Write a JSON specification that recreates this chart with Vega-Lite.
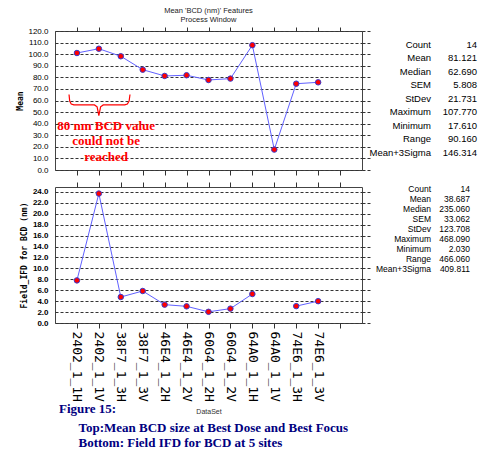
{
  "$schema": "https://vega.github.io/schema/vega-lite/v6.json",
  "background": "white",
  "padding": {"left": 16, "top": 6, "right": 5, "bottom": 4},
  "config": {
    "font": "Liberation Sans",
    "view": {"stroke": null},
    "axis": {
      "gridColor": "#333",
      "gridDash": [3, 2],
      "gridOpacity": 1,
      "tickColor": "#333",
      "domain": false,
      "labelColor": "#000",
      "titleColor": "#000"
    }
  },
  "datasets": {
    "top": [
      {"dataset": "2402_1_1H", "mean": 101.0},
      {"dataset": "2402_1_1V", "mean": 104.7},
      {"dataset": "38F7_1_3H", "mean": 98.2},
      {"dataset": "38F7_1_3V", "mean": 86.6},
      {"dataset": "46E4_1_2H", "mean": 81.2},
      {"dataset": "46E4_1_2V", "mean": 81.8},
      {"dataset": "60G4_1_2H", "mean": 77.7},
      {"dataset": "60G4_1_2V", "mean": 78.9},
      {"dataset": "64A0_1_1H", "mean": 107.77},
      {"dataset": "64A0_1_1V", "mean": 17.61},
      {"dataset": "74E6_1_3H", "mean": 74.5},
      {"dataset": "74E6_1_3V", "mean": 75.7}
    ],
    "bottom": [
      {"dataset": "2402_1_1H", "ifd": 7.8},
      {"dataset": "2402_1_1V", "ifd": 23.7},
      {"dataset": "38F7_1_3H", "ifd": 4.76},
      {"dataset": "38F7_1_3V", "ifd": 5.86},
      {"dataset": "46E4_1_2H", "ifd": 3.36},
      {"dataset": "46E4_1_2V", "ifd": 3.05},
      {"dataset": "60G4_1_2H", "ifd": 2.05},
      {"dataset": "60G4_1_2V", "ifd": 2.63},
      {"dataset": "64A0_1_1H", "ifd": 5.31},
      {"dataset": "64A0_1_1V", "ifd": null},
      {"dataset": "74E6_1_3H", "ifd": 3.09},
      {"dataset": "74E6_1_3V", "ifd": 4.0}
    ],
    "brace": [
      {"bx": 0.64, "by": 65.2},
      {"bx": 0.67, "by": 59.5},
      {"bx": 0.74, "by": 57.0},
      {"bx": 0.86, "by": 56.2},
      {"bx": 1.8, "by": 56.2},
      {"bx": 1.92, "by": 54.5},
      {"bx": 2.0, "by": 47.0},
      {"bx": 2.08, "by": 54.5},
      {"bx": 2.2, "by": 56.2},
      {"bx": 3.18, "by": 56.2},
      {"bx": 3.3, "by": 57.0},
      {"bx": 3.38, "by": 59.5},
      {"bx": 3.42, "by": 65.2}
    ],
    "note": [
      {"tx": 2.33, "ty": 38.3, "t": "80 nm BCD value"},
      {"tx": 2.33, "ty": 25.4, "t": "could not be"},
      {"tx": 2.33, "ty": 11.6, "t": "reached"}
    ],
    "topStats": [
      {"name": "Count", "num": "14"},
      {"name": "Mean", "num": "81.121"},
      {"name": "Median", "num": "62.690"},
      {"name": "SEM", "num": "5.808"},
      {"name": "StDev", "num": "21.731"},
      {"name": "Maximum", "num": "107.770"},
      {"name": "Minimum", "num": "17.610"},
      {"name": "Range", "num": "90.160"},
      {"name": "Mean+3Sigma", "num": "146.314"}
    ],
    "bottomStats": [
      {"name": "Count", "num": "14"},
      {"name": "Mean", "num": "38.687"},
      {"name": "Median", "num": "235.060"},
      {"name": "SEM", "num": "33.062"},
      {"name": "StDev", "num": "123.708"},
      {"name": "Maximum", "num": "468.090"},
      {"name": "Minimum", "num": "2.030"},
      {"name": "Range", "num": "466.060"},
      {"name": "Mean+3Sigma", "num": "409.811"}
    ]
  },
  "title": {
    "text": "Figure 15:",
    "subtitle": [
      "\u200b\u00a0\u00a0\u00a0\u00a0\u00a0\u00a0Top:Mean BCD size at Best Dose and Best Focus",
      "\u200b\u00a0\u00a0\u00a0\u00a0\u00a0\u00a0Bottom: Field IFD for BCD at 5 sites"
    ],
    "orient": "bottom",
    "anchor": "start",
    "frame": "group",
    "offset": -12,
    "dx": 4,
    "font": "Liberation Serif",
    "fontSize": 13,
    "fontWeight": "bold",
    "color": "#000080",
    "subtitleFont": "Liberation Serif",
    "subtitleFontSize": 13,
    "subtitleFontWeight": "bold",
    "subtitleColor": "#000080",
    "subtitleLineHeight": 15,
    "subtitlePadding": 6
  },
  "columns": 2,
  "bounds": "flush",
  "spacing": {"row": 17, "column": 69},
  "concat": [
    {
      "width": 307,
      "height": 139,
      "title": {
        "text": ["Mean 'BCD (nm)' Features", "Process Window"],
        "fontSize": 7.5,
        "fontWeight": "normal",
        "color": "#222",
        "lineHeight": 9,
        "offset": 3,
        "anchor": "middle"
      },
      "view": {"stroke": "#444"},
      "resolve": {"scale": {"x": "independent"}, "axis": {"x": "independent", "y": "independent"}},
      "layer": [
        {
          "data": {"name": "top"},
          "mark": {"type": "line", "color": "#6060ff", "strokeWidth": 1},
          "encoding": {
            "x": {
              "field": "dataset", "type": "ordinal",
              "scale": {"type": "point", "padding": 1, "domain": ["2402_1_1H", "2402_1_1V", "38F7_1_3H", "38F7_1_3V", "46E4_1_2H", "46E4_1_2V", "60G4_1_2H", "60G4_1_2V", "64A0_1_1H", "64A0_1_1V", "74E6_1_3H", "74E6_1_3V", " "]},
              "axis": {"orient": "bottom", "labels": false, "tickSize": 5, "grid": false, "title": null}
            },
            "y": {
              "field": "mean", "type": "quantitative",
              "scale": {"domain": [0, 120], "nice": false},
              "axis": {
                "title": "Mean", "values": [0, 10, 20, 30, 40, 50, 60, 70, 80, 90, 100, 110, 120],
                "format": ".1f", "grid": true, "ticks": false, "labelFontSize": 8, "labelPadding": 7,
                "titleFont": "DejaVu Sans Mono", "titleFontSize": 8, "titleFontWeight": "bold", "titlePadding": 3
              }
            }
          }
        },
        {
          "data": {"name": "top"},
          "mark": {"type": "point", "filled": true, "fill": "#ff0000", "stroke": "#3a3acc", "strokeWidth": 1, "size": 30, "opacity": 1},
          "encoding": {
            "x": {
              "field": "dataset", "type": "ordinal",
              "scale": {"type": "point", "padding": 1, "domain": ["2402_1_1H", "2402_1_1V", "38F7_1_3H", "38F7_1_3V", "46E4_1_2H", "46E4_1_2V", "60G4_1_2H", "60G4_1_2V", "64A0_1_1H", "64A0_1_1V", "74E6_1_3H", "74E6_1_3V", " "]},
              "axis": {"orient": "top", "labels": false, "tickSize": 4, "grid": false, "title": null}
            },
            "y": {
              "field": "mean", "type": "quantitative",
              "scale": {"domain": [0, 120], "nice": false},
              "axis": {"orient": "right", "labels": false, "tickSize": 8, "tickDash": [3, 2], "grid": false, "title": null, "values": [0, 10, 20, 30, 40, 50, 60, 70, 80, 90, 100, 110, 120]}
            }
          }
        },
        {
          "data": {"name": "brace"},
          "mark": {"type": "line", "color": "#ff0000", "strokeWidth": 1.2},
          "encoding": {
            "x": {"field": "bx", "type": "quantitative", "scale": {"domain": [0, 14], "nice": false, "zero": false}, "axis": null},
            "y": {"field": "by", "type": "quantitative", "scale": {"domain": [0, 120], "nice": false}, "axis": null}
          }
        },
        {
          "data": {"name": "note"},
          "mark": {"type": "text", "color": "#ff0000", "font": "Liberation Serif", "fontWeight": "bold", "fontSize": 13},
          "encoding": {
            "x": {"field": "tx", "type": "quantitative", "scale": {"domain": [0, 14], "nice": false, "zero": false}, "axis": null},
            "y": {"field": "ty", "type": "quantitative", "scale": {"domain": [0, 120], "nice": false}, "axis": null},
            "text": {"field": "t"}
          }
        }
      ]
    },
    {
      "width": 46,
      "height": 135,
      "data": {"name": "topStats"},
      "transform": [{"fold": ["name", "num"], "as": ["col", "txt"]}],
      "mark": {"type": "text", "align": "right", "fontSize": 9.5, "color": "#000"},
      "encoding": {
        "x": {"field": "col", "type": "nominal", "scale": {"type": "point", "domain": ["name", "num"], "padding": 0}, "axis": null},
        "y": {"field": "name", "type": "nominal", "sort": null, "scale": {"type": "point", "padding": 1.685}, "axis": null},
        "text": {"field": "txt"}
      }
    },
    {
      "width": 307,
      "height": 136,
      "view": {"stroke": "#444"},
      "data": {"name": "bottom"},
      "resolve": {"axis": {"x": "independent", "y": "independent"}},
      "layer": [
        {
          "mark": {"type": "line", "color": "#6060ff", "strokeWidth": 1},
          "encoding": {
            "x": {
              "field": "dataset", "type": "ordinal",
              "scale": {"type": "point", "padding": 1, "domain": ["2402_1_1H", "2402_1_1V", "38F7_1_3H", "38F7_1_3V", "46E4_1_2H", "46E4_1_2V", "60G4_1_2H", "60G4_1_2V", "64A0_1_1H", "64A0_1_1V", "74E6_1_3H", "74E6_1_3V", " "]},
              "axis": {
                "orient": "bottom", "labelAngle": 90, "labelFont": "DejaVu Sans Mono", "labelFontSize": 13,
                "labelPadding": 3, "tickSize": 5, "labelOverlap": false, "grid": false,
                "title": "DataSet", "titleFontSize": 7, "titleFontWeight": "normal", "titleColor": "#333", "titlePadding": 6
              }
            },
            "y": {
              "field": "ifd", "type": "quantitative",
              "scale": {"domain": [0, 24.9], "nice": false},
              "axis": {
                "title": "Field_IFD for BCD (nm)", "values": [0, 2, 4, 6, 8, 10, 12, 14, 16, 18, 20, 22, 24],
                "format": ".1f", "grid": true, "ticks": false, "labelFontSize": 8, "labelFontWeight": "bold", "labelPadding": 7,
                "titleFont": "DejaVu Sans Mono", "titleFontSize": 8, "titleFontWeight": "bold", "titlePadding": 4
              }
            }
          }
        },
        {
          "mark": {"type": "point", "filled": true, "fill": "#ff0000", "stroke": "#3a3acc", "strokeWidth": 1, "size": 30, "opacity": 1},
          "encoding": {
            "x": {
              "field": "dataset", "type": "ordinal",
              "scale": {"type": "point", "padding": 1, "domain": ["2402_1_1H", "2402_1_1V", "38F7_1_3H", "38F7_1_3V", "46E4_1_2H", "46E4_1_2V", "60G4_1_2H", "60G4_1_2V", "64A0_1_1H", "64A0_1_1V", "74E6_1_3H", "74E6_1_3V", " "]},
              "axis": {"orient": "top", "labels": false, "tickSize": 5, "grid": false, "title": null}
            },
            "y": {
              "field": "ifd", "type": "quantitative",
              "scale": {"domain": [0, 24.9], "nice": false},
              "axis": {"orient": "right", "labels": false, "tickSize": 8, "tickDash": [3, 2], "grid": false, "title": null, "values": [0, 2, 4, 6, 8, 10, 12, 14, 16, 18, 20, 22, 24]}
            }
          }
        }
      ]
    },
    {
      "width": 39,
      "height": 84,
      "data": {"name": "bottomStats"},
      "transform": [{"fold": ["name", "num"], "as": ["col", "txt"]}],
      "mark": {"type": "text", "align": "right", "fontSize": 8.5, "color": "#000"},
      "encoding": {
        "x": {"field": "col", "type": "nominal", "scale": {"type": "point", "domain": ["name", "num"], "padding": 0}, "axis": null},
        "y": {"field": "name", "type": "nominal", "sort": null, "scale": {"type": "point", "padding": 0.15}, "axis": null},
        "text": {"field": "txt"}
      }
    }
  ]
}
